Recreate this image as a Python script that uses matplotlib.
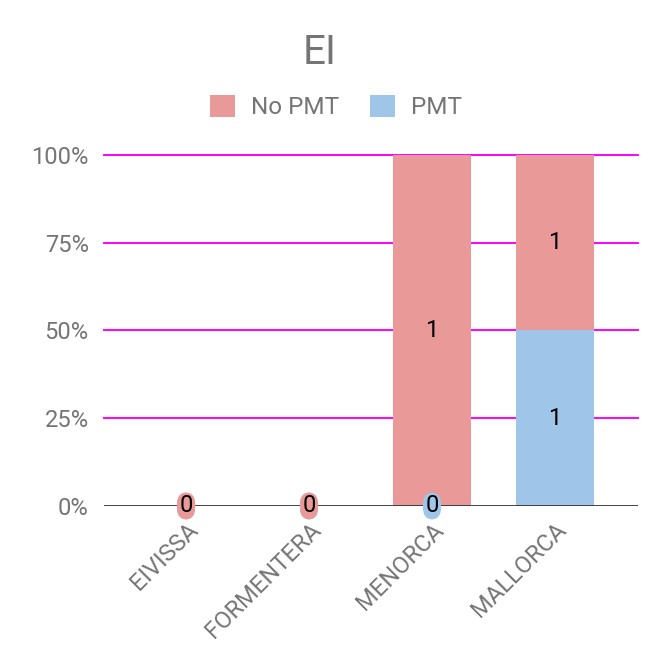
import numpy as np
import matplotlib.pyplot as plt
import matplotlib.transforms as mtransforms
from matplotlib.patches import Patch

plt.rcParams['font.family'] = ['Roboto', 'DejaVu Sans']

# Datos
islas = ['EIVISSA', 'FORMENTERA', 'MENORCA', 'MALLORCA']
no_pmt = np.array([0, 0, 1, 1])
pmt = np.array([0, 0, 0, 1])

col_no_pmt = '#ea9999'
col_pmt = '#9fc5e8'
gris = '#757575'

total = no_pmt + pmt
den = np.where(total == 0, 1, total)
pct_pmt = pmt / den * 100
pct_no = no_pmt / den * 100

fig = plt.figure(figsize=(6.72, 6.70), dpi=100)
ax = fig.add_axes([0.1548, 0.2448, 0.7946, 0.5239])

x = np.arange(len(islas))
ancho = 0.635
ax.bar(x, pct_pmt, ancho, color=col_pmt, zorder=2)
ax.bar(x, pct_no, ancho, bottom=pct_pmt, color=col_no_pmt, zorder=2)

# Etiquetas de valor (PMT primero, No PMT encima)
for i in range(len(islas)):
    y = pct_pmt[i] / 2
    caja = None
    if pmt[i] == 0:
        caja = dict(boxstyle='round,pad=0.1,rounding_size=0.5', fc=col_pmt, ec='none')
    ax.text(x[i], y, str(pmt[i]), ha='center', va='center', fontsize=17,
            color='black', bbox=caja, zorder=4)
for i in range(len(islas)):
    y = pct_pmt[i] + pct_no[i] / 2
    caja = None
    if no_pmt[i] == 0:
        caja = dict(boxstyle='round,pad=0.1,rounding_size=0.5', fc=col_no_pmt, ec='none')
    ax.text(x[i], y, str(no_pmt[i]), ha='center', va='center', fontsize=17,
            color='black', bbox=caja, zorder=5)

ax.set_xlim(-0.667, 3.675)
ax.set_ylim(0, 100)
ax.set_yticks([0, 25, 50, 75, 100])
ax.set_yticklabels(['0%', '25%', '50%', '75%', '100%'])
for v in [25, 50, 75, 100]:
    ax.axhline(v, color='#ff00ff', lw=1.4, zorder=1, clip_on=False)
ax.axhline(0, color='#333333', lw=2.0, zorder=3)

for s in ax.spines.values():
    s.set_visible(False)
ax.tick_params(axis='both', length=0, colors=gris, labelsize=17)
ax.tick_params(axis='y', pad=11)
ax.set_xticks(x)
ax.set_xticklabels(islas, rotation=45, ha='right', va='center', rotation_mode='anchor')
ax.tick_params(axis='x', pad=19)
desplazar = mtransforms.ScaledTranslation(8 / 100, 6 / 100, fig.dpi_scale_trans)
for lab in ax.get_xticklabels():
    lab.set_transform(lab.get_transform() + desplazar)

fig.text(0.475, 0.922, 'EI', ha='center', va='center', fontsize=29, color=gris)

handles = [Patch(fc=col_no_pmt, ec='none', label='No PMT'),
           Patch(fc=col_pmt, ec='none', label='PMT')]
fig.legend(handles=handles, loc='center', bbox_to_anchor=(0.5, 0.84), ncol=2,
           frameon=False, fontsize=17.5, labelcolor=gris, handlelength=1.0,
           handleheight=1.0, handletextpad=0.66, columnspacing=1.3)

plt.savefig('out.png', dpi=100)
